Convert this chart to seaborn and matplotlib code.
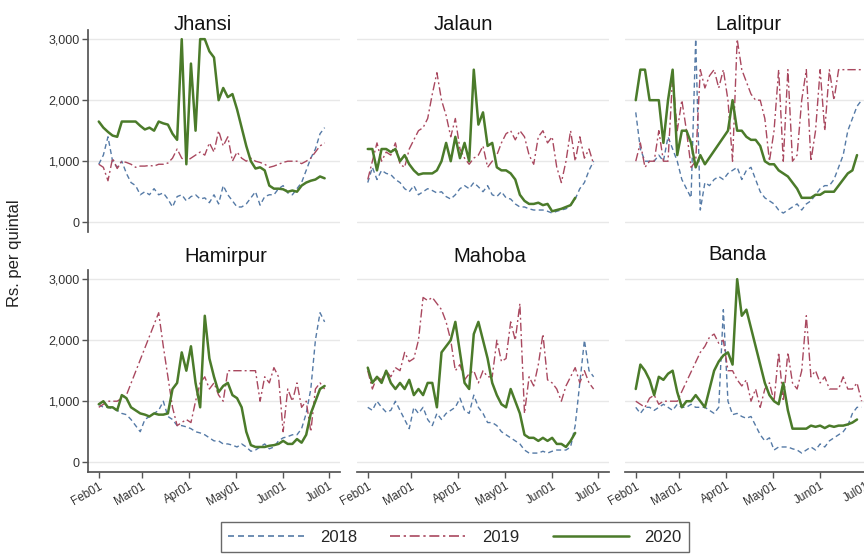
import matplotlib
matplotlib.use('Agg')
import matplotlib.pyplot as plt
import seaborn as sns
import numpy as np
import pandas as pd
from matplotlib.lines import Line2D

# prices (Rs. per quintal), one value every 3 days from Feb01, None = no market data
jhansi_2018 = [950, 1100, 1400, 1000, 900, 1000, 800, 650, 600, 450,
               500, 450, 550, 450, 480, 380, 250, 420, 450, 350,
               420, 450, 380, 400, 320, 450, 300, 600, 450, 350,
               250, 250, 300, 400, 500, 280, 420, 450, 450, 550,
               600, 480, 450, 550, 650, 850, 1050, 1200, 1450, 1550]
jhansi_2019 = [950, 900, 680, 1050, 880, 1000, 980, 950, 900, 920,
               920, 930, 920, 950, 950, 970, 1050, 1200, 1050, 1000,
               1050, 1100, 1150, 1100, 1300, 1150, 1500, 1250, 1400, 1000,
               1150, 1050, 1000, 1050, 1000, 980, 950, 900, 920, 950,
               980, 1000, 1000, 1000, 960, 1000, 1050, 1150, 1250, 1300]
jhansi_2020 = [1650, 1550, 1480, 1420, 1400, 1650, 1650, 1650, 1650, 1580,
               1520, 1550, 1500, 1650, 1620, 1600, 1450, 1350, 3000, 950,
               2600, 1500, 3000, 3000, 2800, 2700, 2000, 2200, 2050, 2100,
               1850, 1550, 1250, 1000, 880, 900, 850, 600, 550, 550,
               540, 500, 520, 500, 600, 650, 680, 700, 750, 720]

jalaun_2018 = [650, 900, 700, 850, 800, 780, 700, 650, 550, 500,
               600, 450, 500, 550, 520, 480, 500, 420, 380, 450,
               550, 600, 550, 650, 580, 500, 600, 450, 420, 500,
               400, 380, 300, 250, 250, 220, 200, 200, 200, 180,
               150, 180, 200, 220, 280, 380, 550, 650, 850, 1000]
jalaun_2019 = [700, 1000, 1300, 1000, 1150, 1100, 1300, 950, 900, 1200,
               1350, 1500, 1550, 1700, 2100, 2450, 2000, 1750, 1400, 1700,
               1200, 1050, 950, 1050, 1100, 1250, 900, 1000, 1100, 1300,
               1450, 1500, 1350, 1500, 1400, 1100, 950, 1400, 1500, 1300,
               1400, 900, 650, 1000, 1500, 1000, 1400, 1050, 1200, 950]
jalaun_2020 = [1200, 1200, 850, 1200, 1200, 1150, 1200, 1000, 1100, 950,
               850, 780, 800, 800, 800, 850, 1000, 1300, 1000, 1400,
               1050, 1300, 1000, 2500, 1600, 1800, 1250, 1300, 900, 850,
               850, 800, 700, 450, 350, 300, 300, 320, 280, 300,
               180, 200, 220, 250, 280, 400, None, None, None, None]

lalitpur_2018 = [1800, 1200, 1000, 1000, 1000, 1100, 1000, 1400, 1200, 1000,
                 700, 550, 400, 3000, 200, 650, 600, 700, 750, 700,
                 800, 850, 900, 700, 850, 900, 700, 500, 400, 350,
                 300, 200, 150, 200, 250, 300, 200, 300, 350, 450,
                 550, 600, 600, 700, 900, 1100, 1500, 1700, 1900, 2000]
lalitpur_2019 = [1000, 1300, 900, 1000, 1000, 1500, 1000, 1000, 2400, 1500,
                 2000, 1500, 900, 1000, 2500, 2200, 2400, 2500, 2200, 2500,
                 2000, 1000, 3000, 2500, 2300, 2100, 2000, 2000, 1700, 1000,
                 1500, 2500, 1000, 2500, 1000, 1100, 2000, 2500, 1000, 1500,
                 2500, 1500, 2500, 2000, 2500, 2500, 2500, 2500, 2500, 2500]
lalitpur_2020 = [2000, 2500, 2500, 2000, 2000, 2000, 1300, 2000, 2500, 1100,
                 1500, 1500, 1300, 900, 1100, 950, None, None, None, None,
                 1500, 2000, 1500, 1500, 1400, 1350, 1350, 1250, 1000, 950,
                 950, 850, 800, 750, 650, 550, 400, 400, 400, 450,
                 450, 500, 500, 500, 600, 700, 800, 850, 1100, None]

hamirpur_2018 = [950, 900, 900, 880, 850, 800, 780, 700, 600, 500,
                 700, 750, 800, 850, 1000, 750, 700, 600, 600, 580,
                 550, 500, 480, 450, 400, 350, 350, 300, 300, 280,
                 250, 300, 250, 180, 200, 250, 300, 220, 250, 350,
                 400, 420, 450, 450, 550, 800, 1200, 2000, 2450, 2300]
hamirpur_2019 = [900, 950, 1000, 1000, 1000, 1050, 1100, None, None, None,
                 None, None, None, 2450, 1900, 1400, 900, 600, 650, 700,
                 650, 1000, 1300, 1400, 1200, 1300, 1100, 1000, 1500, 1500,
                 None, None, None, None, 1500, 1000, 1400, 1300, 1550, 1400,
                 500, 1200, 1000, 1300, 900, 1000, 500, 1200, 1300, 1200]
hamirpur_2020 = [950, 1000, 900, 900, 850, 1100, 1050, 900, 850, 800,
                 780, 750, 800, 780, 780, 800, 1200, 1300, 1800, 1500,
                 1900, 1300, 900, 2400, 1700, 1400, 1150, 1250, 1300, 1100,
                 1050, 900, 500, 280, 250, 250, 250, 270, 280, 300,
                 350, 300, 300, 380, 320, 450, 800, 1000, 1200, 1250]

mahoba_2018 = [900, 850, 1000, 900, 820, 850, 1000, 850, 700, 550,
               900, 800, 900, 700, 600, 800, 700, 800, 850, 900,
               1050, 850, 800, 1100, 900, 800, 650, 650, 600, 500,
               450, 400, 350, 300, 200, 150, 150, 150, 180, 150,
               180, 200, 200, 200, 250, 600, 1300, 2000, 1500, 1400]
mahoba_2019 = [1500, 1200, 1400, 1350, 1500, 1400, 1550, 1500, 1800, 1650,
               1700, 2000, 2700, 2650, 2700, 2600, 2500, 2300, 2000, 1500,
               1600, 1350, 1450, 1500, 1300, 1500, 1400, 1400, 2000, 1650,
               1700, 2300, 2000, 2600, 800, 1400, 1250, 1600, 2100, 1350,
               1300, 1200, 1000, 1250, 1400, 1550, 1300, 1500, 1300, 1200]
mahoba_2020 = [1550, 1300, 1400, 1300, 1500, 1300, 1200, 1300, 1200, 1350,
               1100, 1200, 1100, 1300, 1300, 900, 1800, 1900, 2000, 2300,
               1800, 1300, 1200, 2100, 2300, 2000, 1700, 1300, 1100, 950,
               900, 1200, 1000, 800, 450, 400, 400, 350, 400, 350,
               400, 300, 300, 250, 350, 480, None, None, None, None]

banda_2018 = [900, 800, 900, 900, 850, 900, 950, 900, 850, 950,
              900, 900, 950, 900, 900, 900, 850, 800, 900, 2500,
              1000, 780, 800, 750, 720, 750, 600, 450, 350, 400,
              200, 250, 250, 250, 220, 200, 150, 200, 250, 200,
              300, 250, 350, 400, 450, 500, 600, 800, 900, 900]
banda_2019 = [1000, 950, 900, 1050, 1100, 950, 1000, 1000, 1000, 1000,
              None, None, None, None, 1800, 1900, 2050, 2100, 1950, 2000,
              1500, 1500, 1350, 1250, 1350, 1000, 1200, 900, 1200, 1300,
              1000, 1800, 1000, 1800, 1300, 1200, 1500, 2400, 1400, 1500,
              1300, 1400, 1200, 1200, 1200, 1400, 1200, 1200, 1300, 1000]
banda_2020 = [1200, 1600, 1500, 1350, 1100, 1400, 1350, 1450, 1500, 1150,
              900, 1000, 1000, 1100, 1000, 900, 1200, 1500, 1650, 1750,
              1800, 1600, 3000, 2400, 2500, 2200, 1900, 1600, 1300, 1100,
              1000, 950, 1300, 850, 550, 550, 550, 550, 600, 580,
              600, 560, 600, 580, 600, 600, 620, 650, 700, None]

districts = ['Jhansi', 'Jalaun', 'Lalitpur', 'Hamirpur', 'Mahoba', 'Banda']
years = ['2018', '2019', '2020']
y_ticks = [0, 1000, 2000, 3000]
y_ticklabels = ['0', '1,000', '2,000', '3,000']
series = {
    'Jhansi': [jhansi_2018, jhansi_2019, jhansi_2020],
    'Jalaun': [jalaun_2018, jalaun_2019, jalaun_2020],
    'Lalitpur': [lalitpur_2018, lalitpur_2019, lalitpur_2020],
    'Hamirpur': [hamirpur_2018, hamirpur_2019, hamirpur_2020],
    'Mahoba': [mahoba_2018, mahoba_2019, mahoba_2020],
    'Banda': [banda_2018, banda_2019, banda_2020],
}

# common (non-leap) calendar so all years share the Feb01..Jul01 axis
dates = pd.date_range('2019-02-01', periods=50, freq='3D')

frames = []
for d in districts:
    for yr, vals in zip(years, series[d]):
        frames.append(pd.DataFrame({'district': d, 'year': yr, 'date': dates,
                                    'price': pd.to_numeric(pd.Series(vals), errors='coerce')}))
# missing days are dropped so the line joins across the gap
df = pd.concat(frames, ignore_index=True).dropna()

colors = {'2018': '#557aa6', '2019': '#a9485f', '2020': '#4b7b2a'}
dashes = {'2018': (3.6, 2.4), '2019': (6, 2.2, 1.4, 2.2), '2020': ''}
widths = {'2018': 1.0, '2019': 1.0, '2020': 1.8}

sns.set_theme(style='white')
plt.rcParams['font.family'] = ['Liberation Sans', 'DejaVu Sans']

fig = plt.figure(figsize=(8.64, 5.54), dpi=100)
W, H = 864, 554
col_x = [88, 357, 625]
row_top = [30, 270]
pw, ph = 252, 202
title_pos = [(203, 25), (463, 25), (748, 25), (226, 257), (490, 257), (738, 255)]
month_ticks = pd.date_range('2019-02-01', '2019-07-01', freq='MS')

for k, d in enumerate(districts):
    r, c = divmod(k, 3)
    ax = fig.add_axes([col_x[c] / W, 1 - (row_top[r] + ph) / H, pw / W, ph / H])
    sub = df[df['district'] == d]
    sns.lineplot(data=sub, x='date', y='price', hue='year', style='year', size='year',
                 palette=colors, dashes=dashes, sizes=widths, hue_order=years,
                 style_order=years, size_order=years, estimator=None, legend=False, ax=ax)
    ax.set_xlim(pd.Timestamp('2019-01-25'), pd.Timestamp('2019-07-08'))
    ax.set_ylim(-160, 3150)
    ax.set_yticks(y_ticks)
    ax.set_yticklabels(y_ticklabels)
    ax.grid(axis='y', color='#e8e8e8', lw=1)
    ax.set_axisbelow(True)
    ax.set_xlabel('')
    ax.set_ylabel('')
    for s in ax.spines.values():
        s.set_visible(False)
    ax.set_xticks(month_ticks)
    ax.set_xticklabels([m.strftime('%b%d') for m in month_ticks], rotation=30,
                       ha='right', rotation_mode='anchor', fontsize=8.5, color='#333333')
    ax.tick_params(axis='both', length=4, width=1, color='#555555', pad=2)
    ax.tick_params(axis='y', labelsize=9, labelcolor='#333333')
    if c == 0:
        ax.spines['left'].set_visible(True)
        ax.spines['left'].set_color('#555555')
        ax.tick_params(axis='y', left=True)
    else:
        ax.tick_params(axis='y', left=False, labelleft=False)
    if r == 1:
        ax.spines['bottom'].set_visible(True)
        ax.spines['bottom'].set_color('#555555')
        ax.tick_params(axis='x', bottom=True)
    else:
        ax.tick_params(axis='x', bottom=False, labelbottom=False)
    tx, ty = title_pos[k]
    fig.text(tx / W, 1 - ty / H, d, ha='center', va='center', fontsize=14.5, color='#111111')

fig.text(15 / W, 1 - 253 / H, 'Rs. per quintal', rotation=90, ha='center', va='center',
         fontsize=12, color='#222222')

handles = [Line2D([], [], color=colors['2018'], lw=1.2, dashes=dashes['2018']),
           Line2D([], [], color=colors['2019'], lw=1.2, dashes=dashes['2019']),
           Line2D([], [], color=colors['2020'], lw=1.8)]
leg = fig.legend(handles, years, loc='center', bbox_to_anchor=(455 / W, 1 - 537 / H), ncol=3,
                 frameon=True, fancybox=False, edgecolor='#444444', handlelength=4.6,
                 fontsize=12, columnspacing=2.0, handletextpad=0.9, borderpad=0.45)
leg.get_frame().set_linewidth(1)

fig.savefig('out.png', dpi=100)
